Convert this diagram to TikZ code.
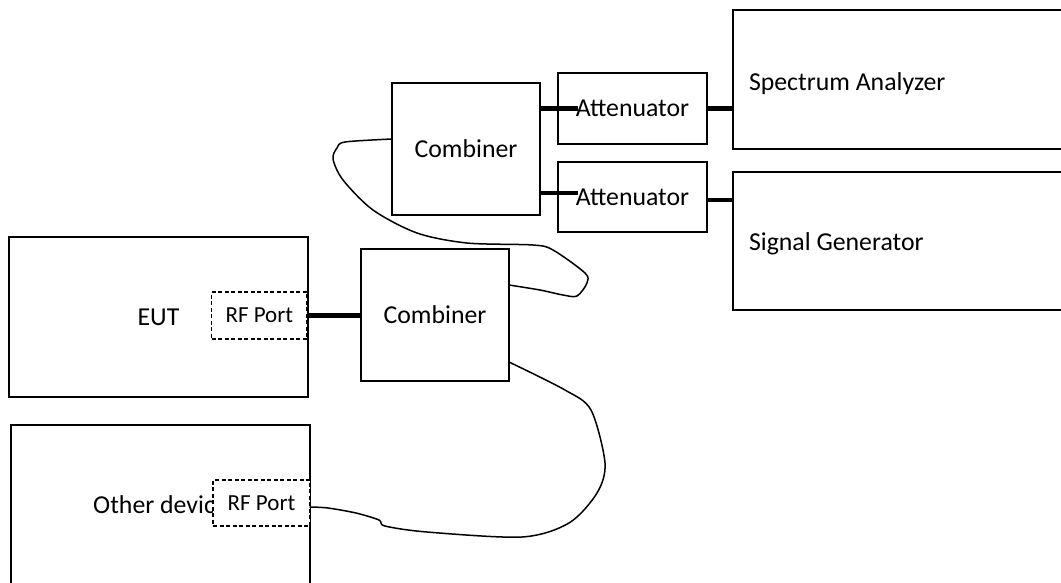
\documentclass[tikz,border=0pt]{standalone}
\usepackage{fontspec}
\setmainfont{Carlito}
\begin{document}
\begin{tikzpicture}[x=1pt,y=-1pt,
  every node/.style={font=\fontsize{25.8}{30}\selectfont, inner sep=0pt, outer sep=0pt},
  box/.style={draw, line width=1.8pt},
  port/.style={draw, fill=white, line width=1.5pt, dash pattern=on 4pt off 2.5pt,
               font=\fontsize{23}{27}\selectfont},
  wire/.style={line width=4.5pt},
  cable/.style={line width=1.5pt, line join=round, line cap=round}]
\useasboundingbox (0,0) rectangle (1061,582);
\clip (0,0) rectangle (1061,582);

% instruments on the right
\node[box, minimum width=340, minimum height=139, anchor=north west] (sa) at (733,10) {};
\node[anchor=base west] (satext) at (749,90) {Spectrum Analyzer};
\node[box, minimum width=340, minimum height=138, anchor=north west] (sg) at (733,172) {};
\node[anchor=base west] (sgtext) at (749,250) {Signal Generator};

% attenuators and combiners
\node[box, minimum width=149, minimum height=71] (att1) at (632.5,108.5) {Attenuator};
\node[box, minimum width=149, minimum height=70] (att2) at (632.5,197) {Attenuator};
\node[box, minimum width=148, minimum height=132] (comb1) at (466,149) {Combiner};
\node[box, minimum width=148, minimum height=132] (comb2) at (435,315) {Combiner};

% devices with their RF ports
\node[box, minimum width=299, minimum height=160] (eut) at (158.5,317) {EUT};
\node[box, minimum width=299, minimum height=160] (other) at (160.5,505) {Other device};
\node[port, minimum width=95.5, minimum height=47] (eutport) at (259.3,315.5) {RF Port};
\node[port, minimum width=97, minimum height=46] (otherport) at (261.5,503) {RF Port};

% short coaxial links
\draw[wire] (comb1.east |- att1.west) -- ([xshift=20pt]att1.west);
\draw[wire] ([yshift=4pt]comb1.east |- att2.west) -- ([xshift=20pt,yshift=4pt]att2.west);
\draw[wire] (att1.east) -- (att1.east -| sa.west);
\draw[wire] ([yshift=-3pt]att2.east) -- ([yshift=-3pt]att2.east -| sg.west);
\draw[wire] (eutport.east) -- (eutport.east -| comb2.west);

% loose cables
\draw[cable] plot[smooth, tension=0.5] coordinates {
  ([yshift=30pt]comb2.east) (540,290) (563,295) (577,296) (587,283) (585,273)
  (553,250) (533,245) (467,243) (417,233) (373,210) (343,180) (333,159)
  (337,148) (345,142) ([yshift=10pt]comb1.west)};
\draw[cable] plot[smooth, tension=0.5] coordinates {
  ([yshift=-4pt]otherport.east) (328,508) (356,513) (379,520) (385,526)
  (427,532) (522,537) (569,523) (597,493) (605,463) (591,410) (565,390)
  ([yshift=-47pt]comb2.east)};
\end{tikzpicture}
\end{document}
